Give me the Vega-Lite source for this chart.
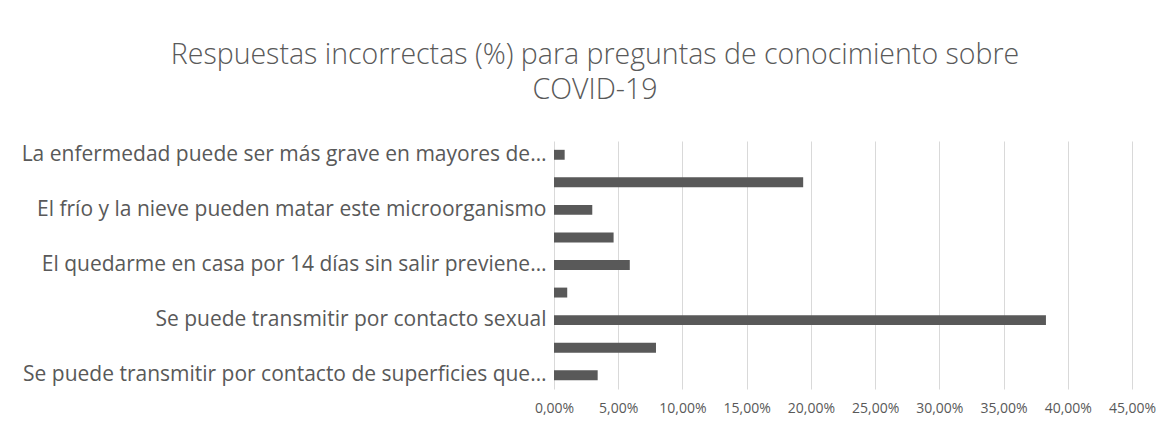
{
  "$schema": "https://vega.github.io/schema/vega-lite/v6.json",
  "autosize": {"type": "none"},
  "padding": {"left": 554, "top": 141, "right": 39, "bottom": 44},
  "width": 578,
  "height": 248,
  "background": "white",
  "title": {
    "text": ["Respuestas incorrectas (%) para preguntas de conocimiento sobre", "COVID-19"],
    "anchor": "middle",
    "dx": -248,
    "offset": 37,
    "font": "Open Sans",
    "fontSize": 28.5,
    "fontWeight": 300,
    "color": "#595959",
    "lineHeight": 34.5
  },
  "data": {
    "values": [
      {"pregunta": "La enfermedad puede ser más grave en mayores de…", "incorrectas": 0.0083},
      {"pregunta": "P2", "incorrectas": 0.194},
      {"pregunta": "El frío y la nieve pueden matar este microorganismo", "incorrectas": 0.0298},
      {"pregunta": "P4", "incorrectas": 0.0464},
      {"pregunta": "El quedarme en casa por 14 días sin salir previene…", "incorrectas": 0.059},
      {"pregunta": "P6", "incorrectas": 0.0103},
      {"pregunta": "Se puede transmitir por contacto sexual", "incorrectas": 0.383},
      {"pregunta": "P8", "incorrectas": 0.0794},
      {"pregunta": "Se puede transmitir por contacto de superficies que…", "incorrectas": 0.034}
    ]
  },
  "mark": {"type": "bar", "color": "#595959"},
  "encoding": {
    "y": {
      "field": "pregunta",
      "type": "nominal",
      "sort": null,
      "scale": {"paddingInner": 0.64, "paddingOuter": 0.32},
      "axis": {
        "title": null,
        "domain": false,
        "ticks": false,
        "labelFont": "Open Sans",
        "labelFontSize": 21,
        "labelColor": "#595959",
        "labelPadding": 8,
        "labelLimit": 600,
        "labelExpr": "indexof(['P2','P4','P6','P8'], datum.value) >= 0 ? '' : datum.label"
      }
    },
    "x": {
      "field": "incorrectas",
      "type": "quantitative",
      "scale": {"domain": [0, 0.45], "nice": false},
      "axis": {
        "title": null,
        "format": ".2%",
        "values": [0, 0.05, 0.1, 0.15, 0.2, 0.25, 0.3, 0.35, 0.4, 0.45],
        "domain": false,
        "ticks": false,
        "grid": true,
        "gridColor": "#d9d9d9",
        "gridWidth": 1,
        "labelFont": "Open Sans",
        "labelFontSize": 14,
        "labelColor": "#595959",
        "labelPadding": 12,
        "labelFlush": false
      }
    }
  },
  "config": {
    "view": {"stroke": null},
    "locale": {
      "number": {"decimal": ",", "thousands": ".", "grouping": [3], "currency": ["", " €"]}
    }
  }
}
